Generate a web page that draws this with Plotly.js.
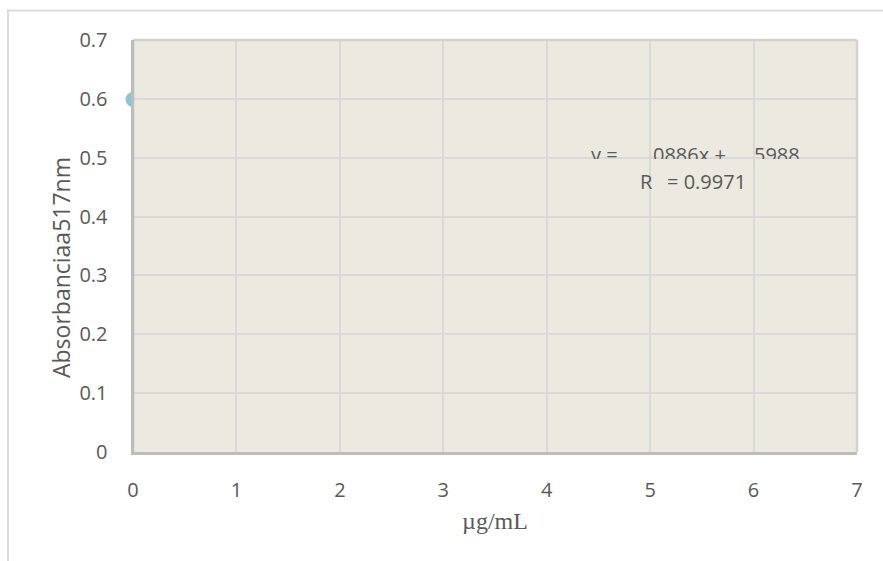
<!DOCTYPE html>
<html>
<head>
<meta charset="utf-8">
<script src="https://cdn.plot.ly/plotly-3.0.1.min.js"></script>
<style>html,body{margin:0;padding:0;background:#fff;}#chart{width:883px;height:561px;}</style>
</head>
<body>
<div id="chart"></div>
<script>
const xValues = [0];
const yValues = [0.5988];
const xTicks = [0, 1, 2, 3, 4, 5, 6, 7];
const xTickLabels = ["0", "1", "2", "3", "4", "5", "6", "7"];
const yTicks = [0, 0.1, 0.2, 0.3, 0.4, 0.5, 0.6, 0.7];
const yTickLabels = ["0", "0.1", "0.2", "0.3", "0.4", "0.5", "0.6", "0.7"];
const eqParts = ["y =", "0886x +", "5988"];
const r2Parts = ["R", "= 0.9971"];
const xTitle = "µg/mL";
const yTitle = "Absorbanciaa517nm";

const BG = '#ECE9E0';
const TXT = '#595959';
const GRID = '#D9D9D9';

// plot area in pixels: x 133..857, y 40..452
const L = 133, T = 40, W = 724, H = 412;
const px2x = p => (p - L) / W * 7;
const py2y = p => (T + H - p) / H * 0.7;
const px2paper = p => (p - L) / W;
const py2paper = p => (T + H - p) / H;

const trace = {
  x: xValues, y: yValues, type: 'scatter', mode: 'markers',
  marker: {size: 15, color: '#8CC4DA'},
  cliponaxis: false, hoverinfo: 'skip'
};

const eqLefts = [590, 652, 753];
const r2Lefts = [639, 666];

const annotations = [];
eqParts.forEach((t, i) => annotations.push({
  xref: 'x', yref: 'y', x: px2x(eqLefts[i]), y: py2y(154), xanchor: 'left', yanchor: 'middle',
  showarrow: false, text: t, font: {size: 20, color: TXT}, borderpad: 0
}));
// band where the equation text is cut off below the 0.5 gridline
[[585, 649], [652.5, 752], [755.5, 805]].forEach(([a, b]) => annotations.push({
  xref: 'x', yref: 'y', x: px2x((a + b) / 2), y: py2y(165), xanchor: 'center', yanchor: 'middle',
  showarrow: false, text: ' ', width: b - a, height: 12, bgcolor: BG, borderpad: 0, borderwidth: 0
}));
r2Parts.forEach((t, i) => annotations.push({
  xref: 'x', yref: 'y', x: px2x(r2Lefts[i]), y: py2y(181.5), xanchor: 'left', yanchor: 'middle',
  showarrow: false, text: t, font: {size: 20, color: TXT}, borderpad: 0
}));
// y axis title (sits a little below the plot centre)
annotations.push({
  xref: 'paper', yref: 'paper', x: px2paper(61), y: py2paper(268), xanchor: 'center', yanchor: 'middle',
  showarrow: false, textangle: -90, text: yTitle, font: {size: 23, color: TXT}
});

const layout = {
  width: 883, height: 561,
  margin: {l: L, r: 883 - L - W, t: T, b: 561 - T - H},
  paper_bgcolor: '#ffffff',
  plot_bgcolor: BG,
  showlegend: false,
  font: {family: 'Open Sans, Liberation Sans, sans-serif', color: TXT},
  xaxis: {
    range: [0, 7], tickvals: xTicks, ticktext: xTickLabels,
    showgrid: true, gridcolor: GRID, gridwidth: 2,
    zeroline: false, showline: true, linecolor: '#BDBDBD', linewidth: 2.5, ticks: '',
    tickfont: {size: 20, color: TXT}, ticklabelstandoff: 18,
    title: {text: xTitle, font: {family: 'Liberation Serif, Times New Roman, serif', size: 24, color: TXT}, standoff: 11}
  },
  yaxis: {
    range: [0, 0.7], tickvals: yTicks, ticktext: yTickLabels,
    showgrid: true, gridcolor: GRID, gridwidth: 2,
    zeroline: false, showline: true, linecolor: '#BDBDBD', linewidth: 2.5, ticks: '',
    tickfont: {size: 20, color: TXT}, ticklabelstandoff: 19
  },
  shapes: [
    // the marker's inner half is hidden behind the plot area
    {type: 'rect', xref: 'x', yref: 'y', x0: 0, x1: 0.085, y0: 0.583, y1: 0.615,
     line: {width: 0}, fillcolor: BG, layer: 'above'},
    {type: 'line', xref: 'x', yref: 'y', x0: 0, x1: 0.085, y0: 0.6, y1: 0.6,
     line: {color: GRID, width: 2}, layer: 'above'},
    {type: 'line', xref: 'paper', yref: 'paper', x0: 0, x1: 1, y0: 1, y1: 1,
     line: {color: '#D2D2D2', width: 2.5}, layer: 'above'},
    {type: 'line', xref: 'paper', yref: 'paper', x0: 1, x1: 1, y0: 0, y1: 1,
     line: {color: '#D2D2D2', width: 2.5}, layer: 'above'},
    {type: 'line', xref: 'paper', yref: 'paper', x0: 0, x1: 0, y0: 0, y1: 1,
     line: {color: '#BDBDBD', width: 2.5}, layer: 'above'},
    // outer chart frame
    {type: 'rect', xref: 'paper', yref: 'paper', x0: px2paper(8), x1: 1.2, y0: -0.5, y1: py2paper(10.5),
     line: {color: '#DCDCDC', width: 2}, fillcolor: 'rgba(0,0,0,0)', layer: 'below'}
  ],
  annotations: annotations
};

Plotly.newPlot('chart', [trace], layout, {displayModeBar: false, staticPlot: true});
</script>
</body>
</html>
